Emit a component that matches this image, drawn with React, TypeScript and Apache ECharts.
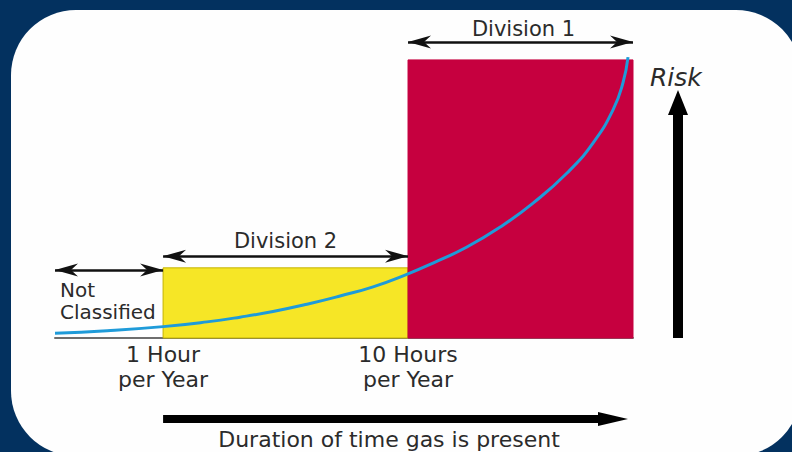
import React, { useEffect, useRef } from 'react';
import * as echarts from 'echarts';

// Zones (hours per year on a log scale, risk level on 0..100)
const zoneNames = ['Not\nClassified', 'Division 2', 'Division 1'];
const zoneStart = [0.362, 1, 10];
const zoneEnd = [1, 10, 82.9];
const zoneLevel = [0, 22.2, 88.0];
const arrowLevel = [21.5, 25.9, 93.7];

// Axis ticks
const tickHours = [1, 10];
const tickLabels = ['1 Hour\nper Year', '10 Hours\nper Year'];

// Risk curve
const curveHours = [0.362, 0.591, 1, 1.51, 2.06, 2.81, 3.87, 5.28, 7.2, 10, 12.65, 17.4, 23.8, 32.4, 44.6, 56.9, 68.7, 75.4, 79.1];
const curveRisk = [1.5, 2.3, 3.6, 5.1, 6.6, 8.4, 10.7, 13.3, 16.2, 20.3, 23.7, 28.8, 35.1, 42.7, 52.2, 61.7, 72.2, 80.7, 88.9];

const xTitle = 'Duration of time gas is present';
const yTitle = 'Risk';

const FONT = 'DejaVu Sans';
const TXT = '#2b2b2b';

export default function App() {
  const ref = useRef<HTMLDivElement>(null);
  useEffect(() => {
    if (!ref.current) return;
    const chart = echarts.init(ref.current, undefined, { renderer: 'svg' });
    const zoneFill = ['rgba(0,0,0,0)', '#f6e626', '#c6003f'];
    const zoneBorder = ['rgba(0,0,0,0)', '#c4b300', '#c6003f'];
    chart.setOption({
      animation: false,
      backgroundColor: '#03315f',
      grid: { left: 55, right: 159, top: 22, bottom: 114 },
      xAxis: {
        type: 'log',
        logBase: 10,
        min: zoneStart[0],
        max: zoneEnd[zoneEnd.length - 1],
        axisLine: { show: true, lineStyle: { color: '#6e6e6e', width: 2 } },
        axisTick: { show: false },
        splitLine: { show: false },
        axisLabel: {
          show: true,
          margin: 4,
          fontSize: 22,
          lineHeight: 25,
          fontFamily: FONT,
          color: TXT,
          showMinLabel: true,
          showMaxLabel: true,
          formatter: (v: number) => {
            for (let i = 0; i < tickHours.length; i++) {
              if (Math.abs(v - tickHours[i]) < 1e-6) return tickLabels[i];
            }
            return '';
          },
        },
      },
      yAxis: { type: 'value', min: 0, max: 100, show: false },
      series: [
        {
          type: 'line',
          data: curveHours.map((h, i) => [h, curveRisk[i]]),
          smooth: 0.5,
          showSymbol: false,
          symbol: 'none',
          z: 5,
          lineStyle: { color: '#1f9bd9', width: 3 },
          markArea: {
            silent: true,
            data: zoneNames.map((n, i) => [
              { xAxis: zoneStart[i], yAxis: 0, itemStyle: { color: zoneFill[i], borderColor: zoneBorder[i], borderWidth: 1 } },
              { xAxis: zoneEnd[i], yAxis: zoneLevel[i] },
            ]).filter((_, i) => zoneLevel[i] > 0),
          },
          markLine: {
            silent: true,
            symbol: 'none',
            label: { show: false },
            lineStyle: { color: '#111', width: 2.5, type: 'solid' },
            emphasis: { disabled: true },
            data: zoneNames.map((n, i) => [
              { coord: [zoneStart[i], arrowLevel[i]] },
              { coord: [zoneEnd[i], arrowLevel[i]] },
            ]),
          },
        },
      ],
    });

    const px = (h: number, r: number) => chart.convertToPixel({ xAxisIndex: 0, yAxisIndex: 0 }, [h, r]) as number[];
    const head = (x: number, y: number, dir: number) => ({
      type: 'polygon', z: 100, silent: true,
      shape: { points: [[x, y], [x - dir * 23, y - 6.5], [x - dir * 16, y], [x - dir * 23, y + 6.5]] },
      style: { fill: '#111' },
    });
    const extra: any[] = [];
    zoneNames.forEach((n, i) => {
      const a = px(zoneStart[i], arrowLevel[i]);
      const b = px(zoneEnd[i], arrowLevel[i]);
      extra.push(head(a[0], a[1], -1), head(b[0], b[1], 1));
      if (i === 0) {
        extra.push({
          type: 'text', z: 100, x: a[0] + 5, y: a[1] + 9,
          style: { text: n, fill: TXT, font: `20px "${FONT}"`, lineHeight: 22, align: 'left', verticalAlign: 'top' },
        });
      } else {
        extra.push({
          type: 'text', z: 100, x: (a[0] + b[0]) / 2 + (i === 2 ? 3 : 0), y: a[1] - (i === 2 ? 12.5 : 15.5),
          style: { text: n, fill: TXT, font: `21px "${FONT}"`, align: 'center', verticalAlign: 'middle' },
        });
      }
    });
    const oneHour = px(tickHours[0], 0);
    chart.setOption({
      graphic: [
        { type: 'rect', z: -10, silent: true, shape: { x: 11, y: 10, width: 790, height: 446, r: 65 }, style: { fill: '#fefefe' } },
        // Risk arrow
        { type: 'rect', z: 100, shape: { x: 673, y: 110, width: 10, height: oneHour[1] - 110 }, style: { fill: '#000' } },
        { type: 'polygon', z: 100, shape: { points: [[668, 115], [678, 90], [688, 115]] }, style: { fill: '#000' } },
        { type: 'text', z: 100, x: 650, y: 77, style: { text: yTitle, fill: TXT, font: `italic 25px "${FONT}"`, align: 'left', verticalAlign: 'middle' } },
        // Duration arrow
        { type: 'rect', z: 100, shape: { x: oneHour[0], y: 415, width: 600 - oneHour[0], height: 8 }, style: { fill: '#000' } },
        { type: 'polygon', z: 100, shape: { points: [[598, 412], [628, 419], [598, 426]] }, style: { fill: '#000' } },
        { type: 'text', z: 100, x: 389, y: 439, style: { text: xTitle, fill: TXT, font: `22px "${FONT}"`, align: 'center', verticalAlign: 'middle' } },
        ...extra,
      ],
    });
    return () => chart.dispose();
  }, []);
  return <div ref={ref} style={{ position: 'absolute', left: 0, top: 0, width: 792, height: 452 }} />;
}
